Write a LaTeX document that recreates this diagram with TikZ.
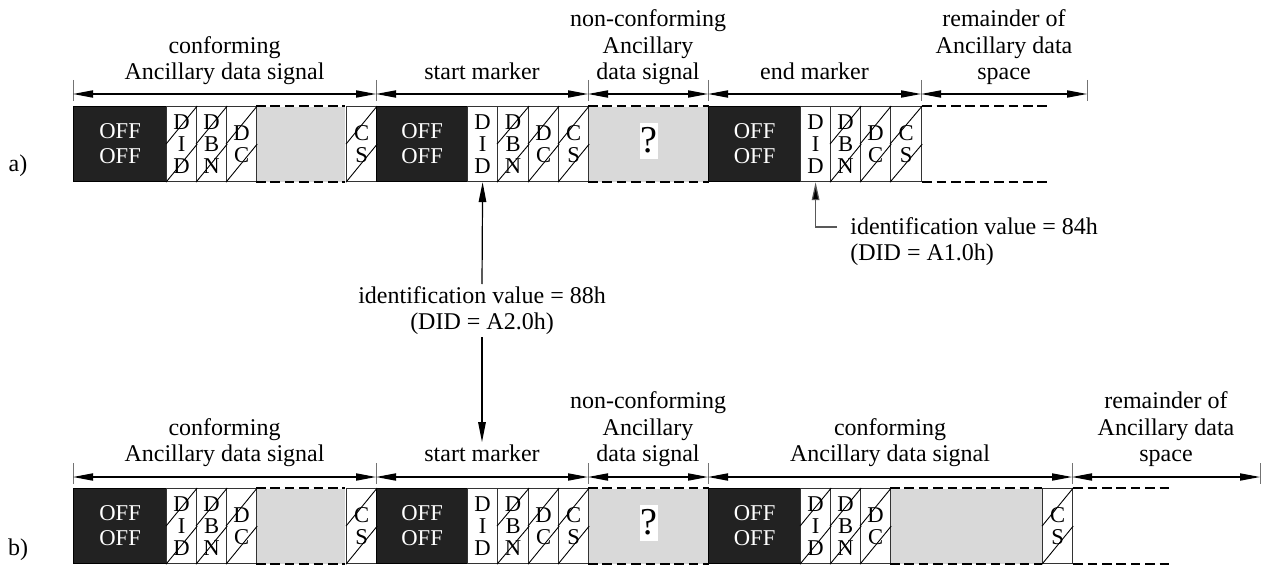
\documentclass[tikz,border=0pt]{standalone}
\usepackage{fontspec}
\setmainfont{Liberation Serif}
\usetikzlibrary{arrows.meta}
\definecolor{offblack}{HTML}{222222}
\definecolor{lgray}{HTML}{D9D9D9}
% #1 style, #2 name, #3 x left, #4 x right, #5 y top, #6 text
\newcommand\mkseg[6]{\node[#1, minimum width={(#4-#3)*0.5pt}] (#2) at (#3,#5) {#6};}
\newcommand\hatchit[1]{\draw[hatch] (#1.west) -- (#1.north east) (#1.south west) -- (#1.east);}
\newcommand\grayedges[1]{\draw[dashedge] (#1.north west) -- (#1.north east) (#1.south west) -- (#1.south east);}
\begin{document}
\begin{tikzpicture}[x=0.5pt, y=-0.5pt,
  font=\fontsize{12}{13.25}\selectfont,
  seg/.style={anchor=north west, inner sep=0pt, minimum height=37.5pt, line width=0.6pt},
  offbox/.style={seg, fill=offblack, draw=black, text=white, align=center, font=\fontsize{11.3}{12.5}\selectfont},
  cellbox/.style={seg, fill=white, draw=black!80, align=center, font=\fontsize{11.3}{10.8}\selectfont},
  graybox/.style={seg, fill=lgray},
  dashedge/.style={line width=1pt, dash pattern=on 4.8pt off 2.4pt},
  hatch/.style={line width=0.45pt},
  tickmark/.style={black!55, line width=0.5pt},
  tipT/.tip={Triangle[length=10pt,width=3.6pt]},
  dim/.style={line width=0.6pt, tipT-tipT},
  lbl/.style={align=center, anchor=south, inner sep=0pt},
  qmark/.style={fill=white, inner sep=0pt, minimum width=9pt, minimum height=18pt, font=\fontsize{19}{19}\selectfont},
  idlbl/.style={inner sep=1pt},
  upline/.style={line width=0.6pt, -{Triangle[length=10pt,width=3.8pt]}},
  elbow/.style={draw=black!65, line width=0.6pt, -{Triangle[length=9pt,width=3.8pt,fill=black]}}
]
\useasboundingbox (0,0) rectangle (1262,567);

% ---------------- row a ----------------
\mkseg{offbox}{aoff1}{73}{166}{106}{OFF\\OFF}
\mkseg{cellbox}{adid1}{166}{196}{106}{D\\I\\D}
\mkseg{cellbox}{adbn1}{196}{226}{106}{D\\B\\N}
\mkseg{cellbox}{adc1}{226}{256}{106}{D\\C}
\mkseg{graybox}{agray1}{256}{344}{106}{}
\mkseg{cellbox}{acs1}{346}{376}{106}{C\\S}
\mkseg{offbox}{aoff2}{376}{467}{106}{OFF\\OFF}
\mkseg{cellbox}{adid2}{467}{497}{106}{D\\I\\D}
\mkseg{cellbox}{adbn2}{497}{528}{106}{D\\B\\N}
\mkseg{cellbox}{adc2}{528}{558}{106}{D\\C}
\mkseg{cellbox}{acs2}{558}{588}{106}{C\\S}
\mkseg{graybox}{agray2}{588}{708}{106}{}
\node[qmark] (aq) at ([yshift=1.75pt]agray2.center) {?};
\mkseg{offbox}{aoff3}{708}{800}{106}{OFF\\OFF}
\mkseg{cellbox}{adid3}{800}{830}{106}{D\\I\\D}
\mkseg{cellbox}{adbn3}{830}{860}{106}{D\\B\\N}
\mkseg{cellbox}{adc3}{860}{890}{106}{D\\C}
\mkseg{cellbox}{acs3}{890}{921}{106}{C\\S}
\coordinate (arest) at (1050,106);
\draw[dashedge] (acs3.north east) -- (arest) (acs3.south east) -- (arest |- acs3.south);
\foreach \c in {adid1,adbn1,adc1,acs1,adbn2,adc2,acs2,adbn3,adc3,acs3} {\hatchit{\c}}
\grayedges{agray1}
\grayedges{agray2}

\node[anchor=base] (alab) at (18,171) {a)};

% dimension line a
\coordinate (ta0) at (73,94);
\coordinate (ta1) at (376,94);
\coordinate (ta2) at (588,94);
\coordinate (ta3) at (708,94);
\coordinate (ta4) at (921,94);
\coordinate (ta5) at (1087,94);
\foreach \t in {ta0,ta1,ta2,ta3,ta4,ta5} {\draw[tickmark] ([yshift=7pt]\t) -- ([yshift=-3.5pt]\t);}
\draw[dim] (ta0) -- (ta1);
\draw[dim] (ta1) -- (ta2);
\draw[dim] (ta2) -- (ta3);
\draw[dim] (ta3) -- (ta4);
\draw[dim] (ta4) -- (ta5);

\node[lbl] (la1) at (224.5,88) {conforming\\Ancillary data signal\strut};
\node[lbl] (la2) at (482,88) {start marker\strut};
\node[lbl] (la3) at (648,88) {non-conforming\\Ancillary\\data signal\strut};
\node[lbl] (la4) at (814.5,88) {end marker\strut};
\node[lbl] (la5) at (1004,88) {remainder of\\Ancillary data\\space\strut};

% ---------------- row b ----------------
\mkseg{offbox}{boff1}{73}{166}{488}{OFF\\OFF}
\mkseg{cellbox}{bdid1}{166}{196}{488}{D\\I\\D}
\mkseg{cellbox}{bdbn1}{196}{226}{488}{D\\B\\N}
\mkseg{cellbox}{bdc1}{226}{256}{488}{D\\C}
\mkseg{graybox}{bgray1}{256}{344}{488}{}
\mkseg{cellbox}{bcs1}{346}{376}{488}{C\\S}
\mkseg{offbox}{boff2}{376}{467}{488}{OFF\\OFF}
\mkseg{cellbox}{bdid2}{467}{497}{488}{D\\I\\D}
\mkseg{cellbox}{bdbn2}{497}{528}{488}{D\\B\\N}
\mkseg{cellbox}{bdc2}{528}{558}{488}{D\\C}
\mkseg{cellbox}{bcs2}{558}{588}{488}{C\\S}
\mkseg{graybox}{bgray2}{588}{708}{488}{}
\node[qmark] (bq) at ([yshift=1.75pt]bgray2.center) {?};
\mkseg{offbox}{boff3}{708}{800}{488}{OFF\\OFF}
\mkseg{cellbox}{bdid3}{800}{830}{488}{D\\I\\D}
\mkseg{cellbox}{bdbn3}{830}{860}{488}{D\\B\\N}
\mkseg{cellbox}{bdc3}{860}{890}{488}{D\\C}
\mkseg{graybox}{bgray3}{890}{1041}{488}{}
\mkseg{cellbox}{bcs3}{1042}{1072}{488}{C\\S}
\coordinate (brest) at (1173,488);
\draw[dashedge] (bcs3.north east) -- (brest) (bcs3.south east) -- (brest |- bcs3.south);
\foreach \c in {bdid1,bdbn1,bdc1,bcs1,bdbn2,bdc2,bcs2,bdid3,bdbn3,bdc3,bcs3} {\hatchit{\c}}
\grayedges{bgray1}
\grayedges{bgray2}
\grayedges{bgray3}

\node[anchor=base] (blab) at (18,555) {b)};

% dimension line b
\coordinate (tb0) at (73,477);
\coordinate (tb1) at (376,477);
\coordinate (tb2) at (588,477);
\coordinate (tb3) at (708,477);
\coordinate (tb4) at (1072,477);
\coordinate (tb5) at (1260,477);
\foreach \t in {tb0,tb1,tb2,tb3,tb4,tb5} {\draw[tickmark] ([yshift=7pt]\t) -- ([yshift=-3.5pt]\t);}
\draw[dim] (tb0) -- (tb1);
\draw[dim] (tb1) -- (tb2);
\draw[dim] (tb2) -- (tb3);
\draw[dim] (tb3) -- (tb4);
\draw[dim] (tb4) -- (tb5);

\node[lbl] (lb1) at (224.5,470) {conforming\\Ancillary data signal\strut};
\node[lbl] (lb2) at (482,470) {start marker\strut};
\node[lbl] (lb3) at (648,470) {non-conforming\\Ancillary\\data signal\strut};
\node[lbl] (lb4) at (890,470) {conforming\\Ancillary data signal\strut};
\node[lbl] (lb5) at (1166,470) {remainder of\\Ancillary data\\space\strut};

% ---------------- identification labels ----------------
\node[idlbl, align=center, anchor=north] (id88) at (482,284) {identification value = 88h\\(DID = A2.0h)};
\coordinate (b88tip) at (482,442);
\draw[upline] (id88.north) -- (adid2.south);
\draw[upline] (id88.south) -- (b88tip);

\node[idlbl, align=left, anchor=north west] (id84) at (848,215) {identification value = 84h\\(DID = A1.0h)};
\coordinate (e84) at (837,227);
\draw[elbow] (e84) -| (adid3.south);
\end{tikzpicture}
\end{document}
